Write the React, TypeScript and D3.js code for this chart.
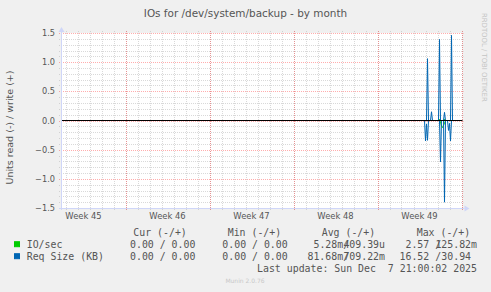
import React from "react";
import * as d3 from "d3";

// ---- data ----
const title = "IOs for /dev/system/backup - by month";
const yAxisTitle = "Units read (-) / write (+)";
const yTicks = [-1.5, -1.0, -0.5, 0.0, 0.5, 1.0, 1.5];
const weekStarts = ["2025-11-03", "2025-11-10", "2025-11-17", "2025-11-24", "2025-12-01"];

// hours after 2025-12-01 00:00 UTC, 2-hour samples
const ioReadHours = [92, 124, 126, 128, 130, 132, 134, 136, 164];
const ioReadValues = [0, 0, -0.02, -0.1, -0.12, -0.08, -0.05, 0, 0];
const ioWriteHours = [92, 122, 124, 126, 132, 134, 136, 164];
const ioWriteValues = [0, 0, 0.02, 0, 0, 0.02, 0, 0];

const reqReadHours = [92, 94, 96, 98, 100, 102, 124, 126, 128, 132, 134, 136, 140, 142, 144, 146, 148, 164];
const reqReadValues = [0, 0, -0.35, -0.06, -0.34, 0, 0, -0.71, 0, 0, -1.4, 0, 0, -0.17, -0.05, -0.35, 0, 0];
const reqWriteHours = [92, 98, 100, 102, 106, 108, 110, 122, 124, 126, 132, 134, 136, 146, 148, 150, 164];
const reqWriteValues = [0, 0, 1.06, 0, 0, 0.15, 0, 0, 1.39, 0, 0, 0.14, 0, 0, 1.46, 0, 0];

const legendHeaders = ["Cur (-/+)", "Min (-/+)", "Avg (-/+)", "Max (-/+)"];
const seriesNames = ["IO/sec", "Req Size (KB)"];
const seriesColors = ["#00cc00", "#0066b3"];
const curValues = ["0.00 / 0.00", "0.00 / 0.00"];
const minValues = ["0.00 / 0.00", "0.00 / 0.00"];
const avgRead = ["5.28m/", "81.68m/"];
const avgWrite = ["409.39u", "709.22m"];
const maxRead = ["2.57 /", "16.52 /"];
const maxWrite = ["125.82m", "30.94"];
const lastUpdate = "Last update: Sun Dec  7 21:00:02 2025";
const version = "Munin 2.0.76";
const watermark = "RRDTOOL / TOBI OETIKER";

// ---- layout ----
const W = 491, H = 292;
const L = 61, R = 462.5, T = 33, B = 208;
const base = new Date(Date.UTC(2025, 11, 1));
const x = d3.scaleUtc()
  .domain([new Date(Date.UTC(2025, 10, 4, 15)), new Date(Date.UTC(2025, 11, 8, 2))])
  .range([L, R]);
const y = d3.scaleLinear().domain([-1.5, 1.5]).range([B, T]);

const sans = "'DejaVu Sans', Verdana, sans-serif";
const mono = "'DejaVu Sans Mono', monospace";
const fontColor = "#555";
const minorColor = "rgba(170,170,170,0.45)";
const majorColor = "rgba(255,0,0,0.32)";

function series(hours: number[], values: number[]) {
  return hours.map((h, i) => ({ t: d3.utcHour.offset(base, h), v: values[i] }));
}

export default function App() {
  const line = d3.line<{ t: Date; v: number }>().x(d => x(d.t)).y(d => y(d.v));
  const minorY = d3.range(-15, 16).map(i => i / 10).filter(v => Math.abs(Math.round(v * 2) - v * 2) > 1e-6);
  const days = d3.utcDay.range(x.domain()[0], x.domain()[1]);
  const mondays = d3.utcMonday.range(x.domain()[0], x.domain()[1]);
  const weekFmt = d3.utcFormat("%V");
  const px = (v: number) => Math.round(v) + 0.5;
  const all = [
    { d: series(ioReadHours, ioReadValues), c: seriesColors[0] },
    { d: series(ioWriteHours, ioWriteValues), c: seriesColors[0] },
    { d: series(reqReadHours, reqReadValues), c: seriesColors[1] },
    { d: series(reqWriteHours, reqWriteValues), c: seriesColors[1] },
  ];
  const cw = 5.97;
  const rowY = [248.2, 260.2];
  return (
    <svg width={W} height={H} style={{ position: "absolute", left: 0, top: 0, background: "#f0f0f0" }}>
      <rect x={0} y={0} width={W} height={H} fill="#f0f0f0" />
      <rect x={L} y={T} width={R - L} height={B - T} fill="#ffffff" />
      <text x={245.5} y={16.5} textAnchor="middle" fontFamily={sans} fontSize={10.45} fill={fontColor}>{title}</text>
      <text transform={`translate(482,13) rotate(90)`} fontFamily={sans} fontSize={6.9} fill="#c4c4c4">{watermark}</text>
      {/* minor grid */}
      {minorY.map(v => (
        <line key={"my" + v} x1={L - 2} x2={R + 1} y1={px(y(v))} y2={px(y(v))} stroke={minorColor} strokeDasharray="1,1" />
      ))}
      {days.map(d => (
        <line key={"mx" + +d} x1={px(x(d))} x2={px(x(d))} y1={T - 2} y2={B + 2} stroke={minorColor} strokeDasharray="1,1" />
      ))}
      {/* major grid */}
      {yTicks.map(v => (
        <line key={"My" + v} x1={L - 2} x2={R + 1} y1={px(y(v))} y2={px(y(v))} stroke={majorColor} strokeDasharray="1,1" />
      ))}
      {mondays.map(d => (
        <line key={"Mx" + +d} x1={px(x(d))} x2={px(x(d))} y1={T - 2} y2={B + 3} stroke={majorColor} strokeDasharray="1,1" />
      ))}
      {/* y labels */}
      {yTicks.map(v => (
        <text key={"yl" + v} x={55} y={y(v) + 3} textAnchor="end" fontFamily={sans} fontSize={8.2} fill={fontColor}>{d3.format(".1f")(v)}</text>
      ))}
      {/* week labels */}
      {weekStarts.map(s => {
        const d = new Date(s + "T00:00:00Z");
        const c = x(d3.utcHour.offset(d, 84));
        return <text key={s} x={c} y={219} textAnchor="middle" fontFamily={sans} fontSize={8.4} fill={fontColor}>{"Week " + weekFmt(d)}</text>;
      })}
      <text transform={`translate(13,127.5) rotate(-90)`} textAnchor="middle" fontFamily={sans} fontSize={9.5} fill={fontColor}>{yAxisTitle}</text>
      {/* series */}
      {all.map((s, i) => (
        <path key={i} d={line(s.d) || ""} fill="none" stroke={s.c} strokeWidth={1} />
      ))}
      {/* zero line */}
      <line x1={L} x2={R} y1={y(0)} y2={y(0)} stroke="#000" strokeWidth={1} />
      {/* axes */}
      <line x1={L - 2} x2={R + 2} y1={B + 0.5} y2={B + 0.5} stroke="#cfd6f8" />
      <line x1={L + 0.5} x2={L + 0.5} y1={B + 2} y2={T - 2} stroke="#cfd6f8" />
      <path d={`M${R + 2},${B - 2.5} L${R + 7},${B + 0.5} L${R + 2},${B + 3.5} Z`} fill="#cfd6f8" />
      <path d={`M${L - 2.5},${T - 1} L${L + 0.5},${T - 6} L${L + 3.5},${T - 1} Z`} fill="#cfd6f8" />
      {/* legend */}
      {legendHeaders.map((h, i) => (
        <text key={h} x={[133.3, 227.7, 321.7, 416.7][i]} y={236.2} fontFamily={mono} fontSize={9.9} fill={fontColor} style={{ whiteSpace: "pre" }}>{h}</text>
      ))}
      {seriesNames.map((n, i) => (
        <g key={n}>
          <rect x={14.5} y={rowY[i] - 6.5} width={5} height={5} fill={seriesColors[i]} stroke={seriesColors[i]} />
          <text x={26.7} y={rowY[i]} fontFamily={mono} fontSize={9.9} fill={fontColor} style={{ whiteSpace: "pre" }}>{n}</text>
          <text x={130} y={rowY[i]} fontFamily={mono} fontSize={9.9} fill={fontColor} style={{ whiteSpace: "pre" }}>{curValues[i]}</text>
          <text x={222.3} y={rowY[i]} fontFamily={mono} fontSize={9.9} fill={fontColor} style={{ whiteSpace: "pre" }}>{minValues[i]}</text>
          <text x={343.3 - (avgRead[i].length - 1) * cw} y={rowY[i]} fontFamily={mono} fontSize={9.9} fill={fontColor} style={{ whiteSpace: "pre" }}>{avgRead[i]}</text>
          <text x={385} y={rowY[i]} textAnchor="end" fontFamily={mono} fontSize={9.9} fill={fontColor} style={{ whiteSpace: "pre" }}>{avgWrite[i]}</text>
          <text x={441.3 - maxRead[i].length * cw} y={rowY[i]} fontFamily={mono} fontSize={9.9} fill={fontColor} style={{ whiteSpace: "pre" }}>{maxRead[i]}</text>
          <text x={477} y={rowY[i]} textAnchor="end" fontFamily={mono} fontSize={9.9} fill={fontColor} style={{ whiteSpace: "pre" }}>{maxWrite[i] + (maxWrite[i].endsWith("m") ? "" : " ")}</text>
        </g>
      ))}
      <text x={477} y={272.4} textAnchor="end" fontFamily={mono} fontSize={9.9} fill={fontColor} style={{ whiteSpace: "pre" }}>{lastUpdate}</text>
      <text x={245} y={282.5} textAnchor="middle" fontFamily={sans} fontSize={6} fill="#c8c8c8">{version}</text>
    </svg>
  );
}
